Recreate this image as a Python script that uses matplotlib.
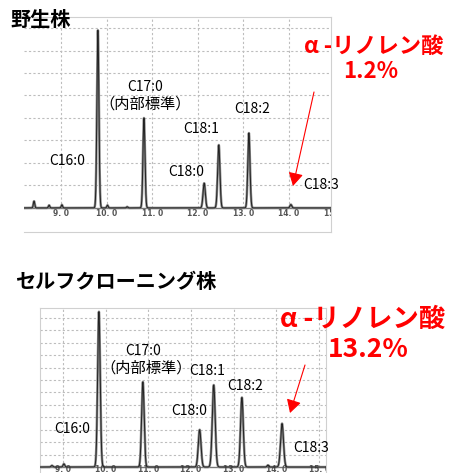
import numpy as np
import matplotlib
matplotlib.use("Agg")
from matplotlib import pyplot as plt

plt.rcParams['font.family'] = ['Noto Sans CJK JP', 'DejaVu Sans']

# ---- data ----
# wild type: retention time (min), peak height (grid units), width (min)
wild_rt = [8.41, 8.74, 9.02, 9.81, 10.02, 10.45, 10.82, 12.14, 12.46, 13.12, 14.04]
wild_h = [0.30, 0.12, 0.14, 7.90, 0.12, 0.05, 4.00, 1.10, 2.80, 3.33, 0.15]
wild_w = [0.015, 0.015, 0.015, 0.022, 0.015, 0.015, 0.022, 0.025, 0.025, 0.024, 0.02]

# self-cloning strain
self_rt = [8.74, 9.02, 9.84, 10.87, 12.20, 12.53, 13.19, 13.80, 14.13]
self_h = [0.12, 0.25, 12.50, 6.85, 3.00, 6.60, 5.60, 0.15, 3.50]
self_w = [0.02, 0.02, 0.030, 0.030, 0.032, 0.034, 0.032, 0.02, 0.034]

tick_vals = [9, 10, 11, 12, 13, 14, 15]
tick_labels = ['9. 0', '10. 0', '11. 0', '12. 0', '13. 0', '14. 0', '15. 0']

peak_names = ['C16:0', 'C17:0', 'C18:0', 'C18:1', 'C18:2', 'C18:3']

W, H = 451, 473
fig = plt.figure(figsize=(W / 100, H / 100), dpi=100)


def fx(px):
    return px / W


def fy(py):
    return 1 - py / H


def trace(rt, h, w, x):
    y = np.zeros_like(x)
    for t, a, s in zip(rt, h, w):
        y += a * np.exp(-0.5 * ((x - t) / s) ** 2)
    return y


def make_panel(rect, xlim, ylim, rt, h, w, nh, tick_y, spines):
    left, top, right, bottom = rect
    ax = fig.add_axes([fx(left), fy(bottom), fx(right) - fx(left), fy(top) - fy(bottom)])
    ax.set_xlim(*xlim)
    ax.set_ylim(*ylim)
    # dotted grid
    for v in range(1, nh + 1):
        ax.axhline(v, color='#bdbdbd', lw=0.8, ls=(0, (2, 2)), zorder=1)
    for v in tick_vals:
        ax.plot([v, v], [0, ylim[1]], color='#bdbdbd', lw=0.8, ls=(0, (2, 2)), zorder=1)
    x = np.linspace(xlim[0], xlim[1], 6000)
    y = trace(rt, h, w, x)
    ax.plot(x, y, color='#8a8a8a', lw=1.8, zorder=3)
    ax.plot(x, y, color='#222222', lw=0.7, zorder=4)
    ax.axhline(0, color='#777777', lw=1.0, zorder=2)
    for v, lab in zip(tick_vals, tick_labels):
        ax.text(v, tick_y, lab, fontsize=5.5, color='#555555', ha='center', va='center',
                family='DejaVu Sans', fontweight='bold', clip_on=True)
    ax.set_xticks([])
    ax.set_yticks([])
    for k, sp in ax.spines.items():
        sp.set_visible(k in spines)
        sp.set_color('#d0d0d0')
        sp.set_linewidth(0.8)
    ax.set_facecolor('white')
    return ax


# top panel (wild type)
make_panel((24, 17, 331, 232), (8.19, 14.92), (-1.07, 8.49),
           wild_rt, wild_h, wild_w, 8, -0.25, ['top', 'right', 'bottom'])
# bottom panel (self-cloning)
make_panel((40, 308, 326, 473), (8.46, 15.16), (-0.48, 12.8),
           self_rt, self_h, self_w, 12, -0.22, ['top', 'right', 'left'])

# titles
fig.text(fx(10), fy(19), '野生株', fontsize=14.5, fontweight='bold', va='center', ha='left')
fig.text(fx(15), fy(281), 'セルフクローニング株', fontsize=14.5, fontweight='bold', va='center', ha='left')

# peak labels (pixel centres)
lab_fs = 10
top_pos = [(67, 161), (145, 87), (186, 172), (201, 129), (252, 109), (321, 185)]
bot_pos = [(72, 429), (143, 351), (189, 411), (207, 371), (245, 386), (311, 448)]
for name, (px, py) in zip(peak_names, top_pos):
    fig.text(fx(px), fy(py), name, fontsize=lab_fs, ha='center', va='center')
for name, (px, py) in zip(peak_names, bot_pos):
    fig.text(fx(px), fy(py), name, fontsize=lab_fs, ha='center', va='center')
fig.text(fx(145), fy(104), '（内部標準）', fontsize=11, ha='center', va='center')
fig.text(fx(146), fy(368), '（内部標準）', fontsize=11, ha='center', va='center')

# alpha-linolenic acid callouts
red = '#ff0000'
fig.text(fx(374), fy(46), 'α -リノレン酸', fontsize=16, fontweight='bold', color=red,
         ha='center', va='center')
fig.text(fx(371), fy(72), '1.2%', fontsize=16, fontweight='bold', color=red,
         ha='center', va='center')
fig.text(fx(363), fy(319), 'α -リノレン酸', fontsize=19, fontweight='bold', color=red,
         ha='center', va='center')
fig.text(fx(368), fy(349), '13.2%', fontsize=19, fontweight='bold', color=red,
         ha='center', va='center')

for (x0, y0), (x1, y1) in [((314, 92), (293, 186)), ((305, 365), (290, 413))]:
    fig.add_artist(matplotlib.patches.FancyArrowPatch(
        (fx(x0), fy(y0)), (fx(x1), fy(y1)), transform=fig.transFigure,
        arrowstyle='-|>,head_length=0.8,head_width=0.45', mutation_scale=10,
        color=red, lw=0.8, shrinkA=0, shrinkB=0))

fig.savefig('out.png', dpi=100)
